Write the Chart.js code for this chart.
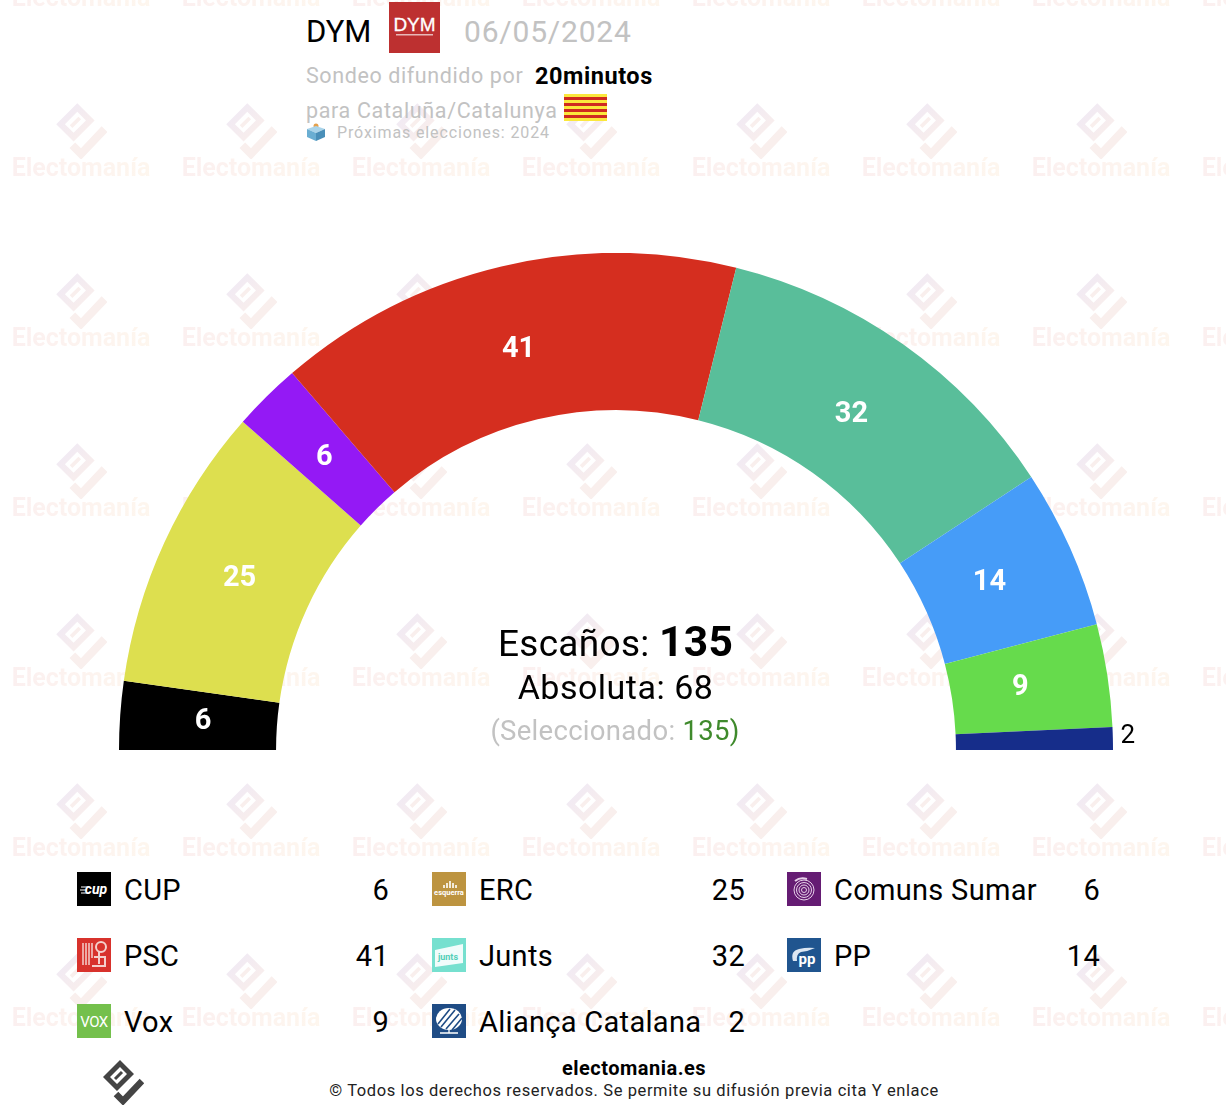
<!DOCTYPE html>
<html lang="es">
<head>
<meta charset="UTF-8">
<title>DYM 06/05/2024 Cataluña</title>
<script src="https://cdn.jsdelivr.net/npm/chart.js"></script>
<style>
  body { margin: 0; background: #fff; font-family: Roboto, sans-serif; color: #000; }
  #page { position: relative; width: 1226px; height: 1116px; overflow: hidden; }
  .t { position: absolute; white-space: nowrap; line-height: 1; }
  .grey { color: #c2c2c2; }
  .wm { position: absolute; width: 170px; text-align: center; }
  .wm svg { position: absolute; left: 59px; top: 0; }
  .wm span { position: absolute; left: 0; width: 170px; top: 52px; font-weight: 700; font-size: 25px; line-height: 1;
    background: linear-gradient(90deg, #fbeff0, #fef7ee); background-clip: text; -webkit-background-clip: text; color: transparent; }
  #chartBox { position: absolute; left: 88.5px; top: 253px; }
  .logo { position: absolute; width: 34px; height: 34px; }
</style>
</head>
<body>
<div id="page">
  <svg width="0" height="0" style="position:absolute">
    <defs><linearGradient id="wmGrad" x1="0" y1="0" x2="1" y2="1">
      <stop offset="0" stop-color="#eee9f6"/><stop offset="1" stop-color="#fbefea"/>
    </linearGradient></defs>
  </svg>
  <div id="watermarks"></div>

  <div class="t" style="left:306px;top:16px;font-size:31px">DYM</div>
  <svg style="position:absolute;left:389px;top:2px" width="51" height="51" viewBox="0 0 51 51">
    <rect width="51" height="51" fill="#bd3030"/>
    <text x="25.5" y="29" text-anchor="middle" fill="#fff" font-family="Liberation Sans" font-size="19" stroke="#fff" stroke-width=".3">DYM</text>
    <rect x="7" y="32" width="37" height="1.5" fill="#e8b8b8"/>
  </svg>
  <div class="t grey" style="left:464px;top:17px;font-size:30px;letter-spacing:.8px">06/05/2024</div>
  <div class="t grey" style="left:306px;top:65px;font-size:21.5px;letter-spacing:.6px">Sondeo difundido por</div>
  <div class="t" style="left:535px;top:65px;font-size:23.5px;font-weight:700;letter-spacing:.55px">20minutos</div>
  <div class="t grey" style="left:306px;top:100px;font-size:21.5px;letter-spacing:.65px">para Cataluña/Catalunya</div>
  <svg style="position:absolute;left:564px;top:94px" width="43" height="27" viewBox="0 0 43 27">
    <rect width="43" height="27" fill="#fbe83c"/>
    <rect y="3" width="43" height="3" fill="#cf2a20"/><rect y="9" width="43" height="3" fill="#cf2a20"/>
    <rect y="15" width="43" height="3" fill="#cf2a20"/><rect y="21" width="43" height="3" fill="#cf2a20"/>
  </svg>
  <svg style="position:absolute;left:306px;top:122px" width="20" height="20" viewBox="0 0 20 20">
    <circle cx="10" cy="4" r="2.5" fill="#e5a04a"/>
    <path d="M1 7 L10 4 L19 7 L10 11Z" fill="#a9d4ea"/><path d="M1 7 L10 11 V19 L1 15Z" fill="#6aaed2"/><path d="M19 7 L10 11 V19 L19 15Z" fill="#4a8fb8"/>
  </svg>
  <div class="t grey" style="left:337px;top:125px;font-size:16px;letter-spacing:.87px">Próximas elecciones: 2024</div>

  <div id="chartBox"><canvas id="seatsChart" width="1054" height="497"></canvas></div>

  <div class="t" style="left:0;width:1231px;text-align:center;top:621px;font-size:37px;letter-spacing:.3px">Escaños: <b style="font-size:42.5px">135</b></div>
  <div class="t" style="left:0;width:1231px;text-align:center;top:670px;font-size:34px;letter-spacing:.5px">Absoluta: 68</div>
  <div class="t grey" style="left:0;width:1230px;text-align:center;top:717px;font-size:27.5px;letter-spacing:.3px">(Seleccionado: <span style="color:#3f8a2c">135)</span></div>

  <div id="legendBox"></div>

  <svg style="position:absolute;left:102px;top:1060px" width="42" height="45" viewBox="7 5 42 45" id="footLogo"></svg>
  <div class="t" style="left:0;width:1268px;text-align:center;top:1058px;font-size:20px;font-weight:700;letter-spacing:.5px">electomania.es</div>
  <div class="t" style="left:0;width:1268px;text-align:center;top:1083px;font-size:16.5px;letter-spacing:.6px;color:#222">© Todos los derechos reservados. Se permite su difusión previa cita Y enlace</div>
</div>

<script>
  const partidos = ['CUP', 'ERC', 'Comuns Sumar', 'PSC', 'Junts', 'PP', 'Vox', 'Aliança Catalana'];
  const escanos = [6, 25, 6, 41, 32, 14, 9, 2];
  const colores = ['#000000', '#dddf4f', '#9419f5', '#d52e1f', '#59be9a', '#469cf8', '#66db4c', '#162d8a'];
  const coloresLogo = ['#000000', '#bd9440', '#651c73', '#d8322c', '#76e0cf', '#20558f', '#74c04c', '#1f4c85'];

  // dibujo de cada logo, caja de 34x34
  const logos = [
    '<text x="19" y="22" text-anchor="middle" fill="#fff" font-size="14" font-weight="700" font-style="italic">cup</text><path d="M4 15h7M3 18h7M4 21h6" stroke="#fff"/>',
    '<path d="M12 16v-3M15 16v-5M18 16v-7M21 16v-5M24 16v-3" stroke="#fff" stroke-width="1.6"/><text x="17" y="23" text-anchor="middle" fill="#fff" font-size="7.5" font-weight="700">esquerra</text>',
    '<g fill="none" stroke="#e6cfe8"><circle cx="17" cy="18" r="10"/><circle cx="17" cy="18" r="7.5"/><circle cx="17" cy="18" r="5"/><circle cx="17" cy="18" r="2.5"/></g><path d="M8 9 Q13 5 20 7" fill="none" stroke="#e6cfe8" stroke-width="2"/>',
    '<path d="M6 5v22M9 5v22M12 5v22M15 5v15" stroke="#f4d0cc" stroke-width="1.5"/><circle cx="24" cy="9" r="5" fill="none" stroke="#f4d0cc" stroke-width="2"/><path d="M17 19h11v9H15" fill="none" stroke="#f4d0cc" stroke-width="2"/><path d="M22 14v12" stroke="#f4d0cc" stroke-width="2"/>',
    '<path d="M3 12 L31 6 V25 L3 29Z" fill="#fff" opacity=".9"/><text x="16" y="22" text-anchor="middle" fill="#50cfb8" font-size="9" font-weight="700">junts</text>',
    '<path d="M6 23 Q3 13 12 11 Q20 9 28 10 Q22 13 14 14 Q9 16 10 23" fill="#dbe6f2"/><text x="20" y="26" text-anchor="middle" fill="#fff" font-size="15" font-weight="700">pp</text>',
    '<text x="17" y="23" text-anchor="middle" fill="#fff" font-size="15" letter-spacing="-.5">VOX</text>',
    '<ellipse cx="17" cy="15" rx="13" ry="11" fill="#fff"/><path d="M6 20L18 5M9 23L23 6M14 25L27 10M20 26L30 14" stroke="#1f4c85" stroke-width="1.6"/><path d="M8 29h18M17 26v3" stroke="#fff" stroke-width="1.3"/>'
  ];

  const logoPath = '<path d="M25 5 L39 19 L22 36 L8 22Z M25 12 L15 22 L22 29 L32 19Z" fill-rule="evenodd" FILL/>'
    + '<path d="M20 24 L27 17" stroke="STROKE" stroke-width="3"/>'
    + '<path d="M21 39 L28 46 L47 26" fill="none" stroke="STROKE" stroke-width="6.5"/>';

  // marca de agua repetida
  const wmBox = document.getElementById('watermarks');
  for (let fila = 0; fila < 7; fila++) {
    for (let col = 0; col < 8; col++) {
      const d = document.createElement('div');
      d.className = 'wm';
      d.style.left = (-4 + col * 170) + 'px';
      d.style.top = (-67 + fila * 170) + 'px';
      d.innerHTML = '<svg width="52" height="56" viewBox="7 5 42 45">'
        + logoPath.replace('FILL', 'fill="url(#wmGrad)"').replaceAll('STROKE', '#f9efed') + '</svg>'
        + '<span>Electomanía</span>';
      wmBox.appendChild(d);
    }
  }
  document.getElementById('footLogo').innerHTML =
    logoPath.replace('FILL', 'fill="#444"').replaceAll('STROKE', '#444');

  // leyenda en tres columnas
  const legendX = [77, 432, 787];
  const legendNumX = [389, 745, 1100];
  const legendY = [872, 938, 1004];
  const legendBox = document.getElementById('legendBox');
  partidos.forEach((p, i) => {
    const col = i % 3, fila = Math.floor(i / 3);
    const x = legendX[col], y = legendY[fila];
    legendBox.insertAdjacentHTML('beforeend',
      `<svg class="logo" style="left:${x}px;top:${y}px" viewBox="0 0 34 34"><rect width="34" height="34" fill="${coloresLogo[i]}"/>${logos[i]}</svg>` +
      `<div class="t" style="left:${x + 47}px;top:${y + 4}px;font-size:29px;letter-spacing:.3px">${p}</div>` +
      `<div class="t" style="right:${1226 - legendNumX[col]}px;top:${y + 4}px;font-size:29px;letter-spacing:.3px">${escanos[i]}</div>`);
  });

  // numeros sobre cada sector
  const etiquetas = {
    id: 'etiquetas',
    afterDatasetsDraw(chart) {
      const ctx = chart.ctx;
      const arcs = chart.getDatasetMeta(0).data;
      ctx.save();
      ctx.textAlign = 'center';
      ctx.textBaseline = 'middle';
      arcs.forEach((arc, i) => {
        const v = escanos[i];
        const a = (arc.startAngle + arc.endAngle) / 2;
        if (v <= 2) {
          const r = arc.outerRadius + 15;
          ctx.fillStyle = '#000';
          ctx.font = '400 26px Roboto';
          ctx.fillText(v, arc.x + Math.cos(a) * r, arc.y + Math.sin(a) * r - 2);
        } else {
          const r = (arc.innerRadius + arc.outerRadius) / 2 - 7;
          ctx.fillStyle = '#fff';
          ctx.font = '700 29px Roboto';
          ctx.fillText(v, arc.x + Math.cos(a) * r - 2.5, arc.y + Math.sin(a) * r);
        }
      });
      ctx.restore();
    }
  };

  new Chart(document.getElementById('seatsChart'), {
    type: 'doughnut',
    data: {
      labels: partidos,
      datasets: [{ data: escanos, backgroundColor: colores, borderWidth: 0 }]
    },
    options: {
      responsive: false,
      animation: false,
      rotation: -90,
      circumference: 180,
      cutout: '68.4%',
      layout: { padding: { left: 30, right: 30 } },
      plugins: { legend: { display: false }, tooltip: { enabled: false } }
    },
    plugins: [etiquetas]
  });
</script>
</body>
</html>
